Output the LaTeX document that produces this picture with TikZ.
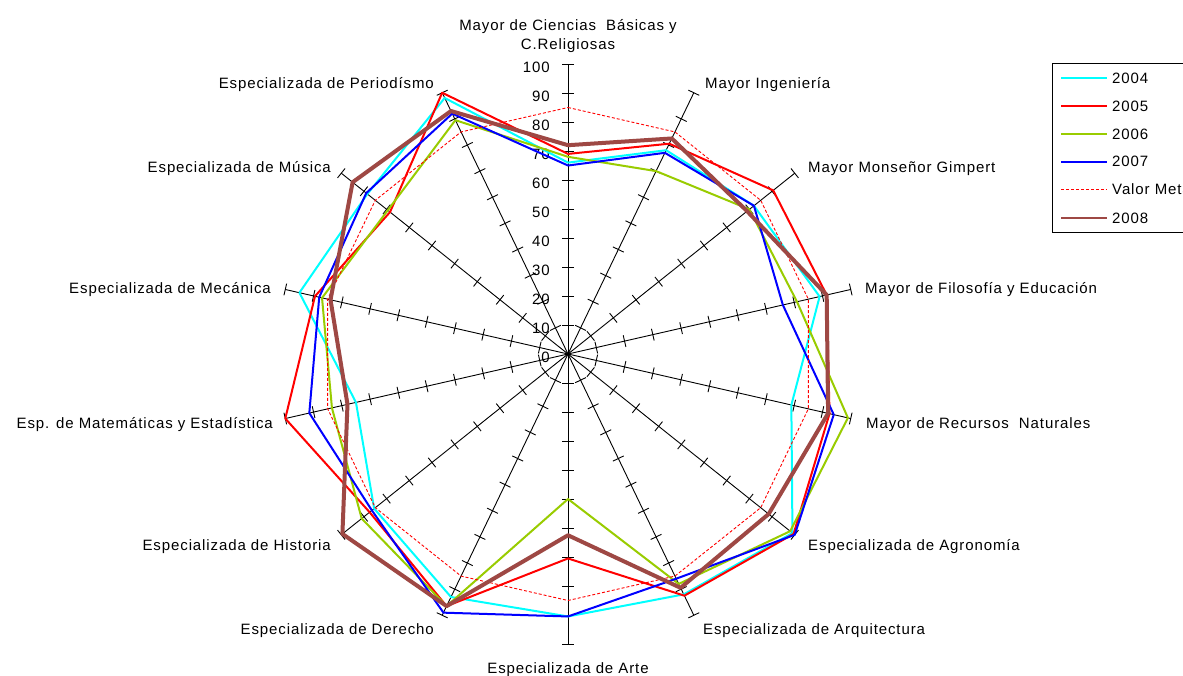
\documentclass[tikz,border=0pt]{standalone}
\usepackage{fontspec}
\setmainfont{Liberation Sans}[LetterSpace=6]
\definecolor{c04}{RGB}{0,255,255}
\definecolor{c05}{RGB}{255,0,0}
\definecolor{c06}{RGB}{153,204,0}
\definecolor{c07}{RGB}{0,0,255}
\definecolor{c08}{RGB}{158,72,68}
\newcommand\radarseries[3]{%
  \foreach \v [count=\i from 0] in {#3}{%
    \coordinate (#1-\i) at ({568+2.9*\v*sin(\i*360/14)},{354-2.9*\v*cos(\i*360/14)});}
  \draw[#2] (#1-0) \foreach \i in {1,...,13}{ -- (#1-\i)} -- cycle;
}
\begin{document}
\begin{tikzpicture}[x=1pt,y=-1pt,
  font=\fontsize{15}{17}\selectfont,
  axisline/.style={black, line width=0.9pt},
  ser/.style={line width=2pt, line join=round},
  s04/.style={ser, c04},
  s05/.style={ser, c05},
  s06/.style={ser, c06},
  s07/.style={ser, c07},
  smeta/.style={c05, line width=0.9pt, dash pattern=on 3pt off 2pt},
  s08/.style={c08, line width=4pt, line join=round},
  lab/.style={inner sep=0pt}]
\clip (0,0) rectangle (1183,675);
\fill[white] (0,0) rectangle (1183,675);
\coordinate (O) at (568,354);
% axes and ticks
\foreach \k in {0,...,13}{
  \pgfmathsetmacro\a{\k*360/14}
  \coordinate (end\k) at ({568+290*sin(\a)},{354-290*cos(\a)});
  \draw[axisline] (O) -- (end\k);
  \foreach \j in {1,...,10}{
    \draw[axisline] ({568+29*\j*sin(\a)+6*cos(\a)},{354-29*\j*cos(\a)+6*sin(\a)}) -- ++({-12*cos(\a)},{-12*sin(\a)});
  }
}
% scale numbers
\foreach \j in {0,...,10}{
  \pgfmathtruncatemacro\n{10*\j}
  \node[lab, anchor=base east] (num\j) at (550,{362-29*\j}) {\n};
}
% series
\radarseries{a}{s04}{66,78,82,89,79,99,92,90.5,93,85.5,75,95,88.5,98}
\radarseries{b}{s05}{69,80.5,90.5,91.5,92.5,99.5,92.5,70.5,96.5,87.5,100,89.5,78.5,100}
\radarseries{c}{s06}{68,70,80,81,99,98,88,50,96.5,91,83.5,87,79.5,89.5}
\radarseries{d}{s07}{65,77,82,76,94,100,86,90.5,99,86.5,91.5,88,89,92}
\radarseries{m}{smeta}{85,85,85,85,85,85,85,85,85,85,85,85,85,85}
\radarseries{e}{s08}{72,82.5,79,91.5,92,88.5,89.5,62.5,96.5,99.5,78,84,95,93}
% category labels
\node[lab, anchor=base] (L0a) at (568,30) {Mayor de Ciencias\ \ Básicas y};
\node[lab, anchor=base] (L0b) at (568,49.5) {C.Religiosas};
\node[lab, anchor=base west] (L1) at (705,88) {Mayor Ingeniería};
\node[lab, anchor=base west] (L2) at (808,172) {Mayor Monseñor Gimpert};
\node[lab, anchor=base west] (L3) at (865,293) {Mayor de Filosofía y Educación};
\node[lab, anchor=base west] (L4) at (866,428) {Mayor de Recursos\ \ Naturales};
\node[lab, anchor=base west] (L5) at (808,550) {Especializada de Agronomía};
\node[lab, anchor=base west] (L6) at (703,634) {Especializada de Arquitectura};
\node[lab, anchor=base] (L7) at (568,673) {Especializada de Arte};
\node[lab, anchor=base east] (L8) at (434,634) {Especializada de Derecho};
\node[lab, anchor=base east] (L9) at (331,550) {Especializada de Historia};
\node[lab, anchor=base east] (L10) at (273,428) {Esp. de Matemáticas y Estadística};
\node[lab, anchor=base east] (L11) at (271,293) {Especializada de Mecánica};
\node[lab, anchor=base east] (L12) at (331,172) {Especializada de Música};
\node[lab, anchor=base east] (L13) at (434,88) {Especializada de Periodísmo};
% legend
\draw[black, line width=0.9pt] (1052,63.5) rectangle (1210,232);
\foreach \y/\t [count=\q] in {78/2004, 106/2005, 134/2006, 161.5/2007, 189.5/Valor Meta, 218/2008}{
  \coordinate (la\q) at (1061,\y);
  \coordinate (lb\q) at (1107,\y);
  \node[lab, anchor=base west] (lt\q) at (1112,\y+5) {\t};
}
\draw[s04] (la1) -- (lb1);
\draw[s05] (la2) -- (lb2);
\draw[s06] (la3) -- (lb3);
\draw[s07] (la4) -- (lb4);
\draw[smeta] (la5) -- (lb5);
\draw[c08, line width=2.5pt] (la6) -- (lb6);
\end{tikzpicture}
\end{document}
